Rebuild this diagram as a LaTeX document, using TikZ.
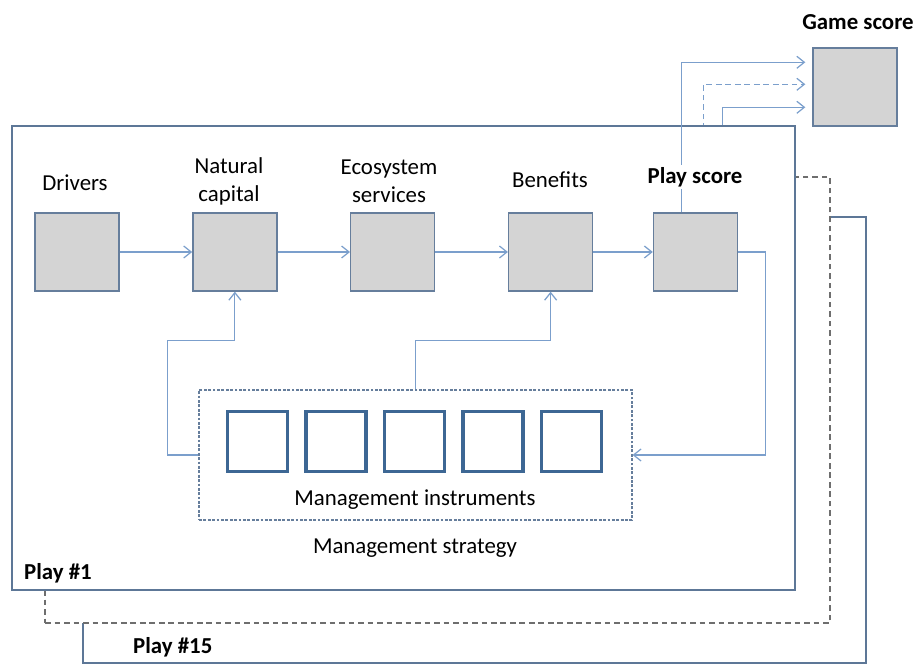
\documentclass[tikz,border=0pt]{standalone}
\usepackage{fontspec}
\setmainfont{Carlito}
\usepackage{tikz}
\usetikzlibrary{positioning, arrows.meta}
\usepackage{xcolor}
\definecolor{lineblue}{HTML}{7B9FCC}
\definecolor{boxedge}{HTML}{667E9C}
\definecolor{frameedge}{HTML}{5D7797}
\definecolor{instredge}{HTML}{3D6794}
\definecolor{boxfill}{HTML}{D4D4D4}
\definecolor{dashgray}{HTML}{6E6E6E}

\begin{document}
\begin{tikzpicture}[x=0.02cm, y=-0.02cm, node distance=1.45cm,
        every node/.style={font=\fontsize{13}{16}\selectfont},
        box/.style={draw=boxedge, fill=boxfill, line width=0.8pt, minimum width=1.68cm, minimum height=1.56cm, inner sep=0pt},
        instr/.style={draw=instredge, line width=1.8pt, minimum size=1.2cm, inner sep=0pt},
        frame/.style={draw=frameedge, fill=white, line width=0.8pt, inner sep=0pt},
        arr/.style={draw=lineblue, line width=0.7pt, -{Straight Barb[length=1.5mm, width=2.4mm]}},
        lbl/.style={align=center, inner sep=1pt}]
        \useasboundingbox (0,0) rectangle (914,665);

        % later plays, stacked behind play #1
        \node[frame, minimum width=15.66cm, minimum height=8.92cm] (p15) at (474.5,440) {};
        \node[anchor=west, font=\fontsize{13}{16}\selectfont\bfseries] at (127,647) {Play \#15};
        \node[frame, draw=dashgray, dashed, dash pattern=on 3.2pt off 2.2pt, minimum width=15.7cm, minimum height=8.92cm] (pi) at (437.5,400) {};

        \node[box] (game) at (855,87) {};
        \node[lbl, font=\fontsize{13}{16}\selectfont\bfseries] at (858,22) {Game score};
        \draw[arr, shorten >=0.14cm] ([xshift=-2.88cm]p15.north east) |- ([yshift=-1.2cm]game.north west);
        \draw[arr, dashed, dash pattern=on 3.2pt off 2.2pt, shorten >=0.14cm] ([xshift=-2.54cm]pi.north east) |- ([yshift=-0.74cm]game.north west);

        % play #1
        \node[frame, minimum width=15.66cm, minimum height=9.28cm] (p1) at (403.5,358) {};
        \node[anchor=west, font=\fontsize{13}{16}\selectfont\bfseries] at (18,573) {Play \#1};

        \node[box] (drivers) at (77,252) {};
        \node[box, right=of drivers] (natcap) {};
        \node[box, right=of natcap] (ecoserv) {};
        \node[box, right=of ecoserv] (benefits) {};
        \node[box, right=of benefits, xshift=-0.26cm] (pscore) {};

        \draw[arr, shorten >=0.14cm] ([xshift=-0.28cm]pscore.north) |- ([yshift=-0.3cm]game.north west);

        \node[lbl] at (75,183) {Drivers};
        \node[lbl] at (229,181) {Natural\\capital};
        \node[lbl] at (389,181) {Ecosystem\\services};
        \node[lbl] at (550,180) {Benefits};
        \node[lbl, fill=white, font=\fontsize{13}{16}\selectfont\bfseries] at (695,177) {Play score};

        \draw[arr] (drivers) -- (natcap);
        \draw[arr] (natcap) -- (ecoserv);
        \draw[arr] (ecoserv) -- (benefits);
        \draw[arr] (benefits) -- (pscore);

        \node[draw=boxedge, dashed, dash pattern=on 1.6pt off 0.9pt, line width=0.7pt, minimum width=8.66cm, minimum height=2.6cm, inner sep=0pt] (strategy) at (415.5,455) {};
        \foreach \i in {0,...,4}
            \node[instr] (instr\i) at (257.5+78.5*\i,441.5) {};
        \node[lbl] at (415,500) {Management instruments};
        \node[lbl] at (415,548) {Management strategy};

        \draw[arr] (pscore.east) -- ++(0.54cm,0) |- (strategy.east);
        \draw[arr] (strategy.west) -- ++(-0.62cm,0) |- ([yshift=-0.98cm]natcap.south) -- (natcap.south);
        \draw[arr] (strategy.north) |- ([yshift=-0.98cm]benefits.south) -- (benefits.south);
      \end{tikzpicture}
\end{document}
